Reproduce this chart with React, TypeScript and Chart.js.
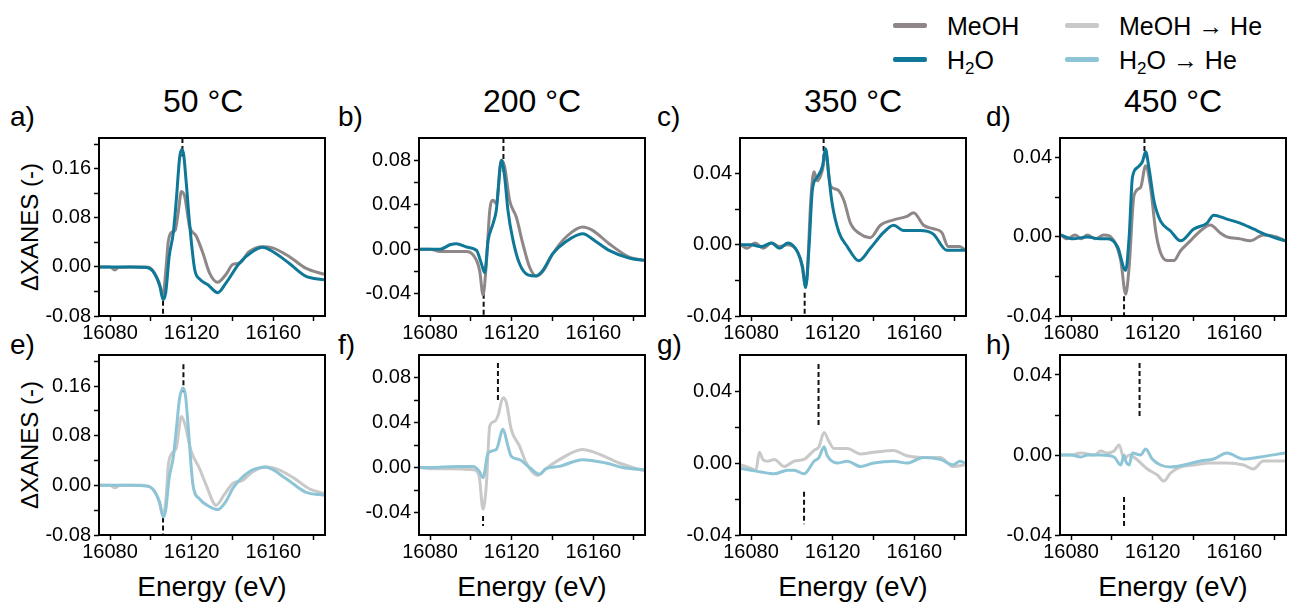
import React, { useEffect, useRef } from 'react';
import { Chart, registerables } from 'chart.js';
Chart.register(...registerables);

const FONT = '"Liberation Sans", Arial, Helvetica, sans-serif';

const COLOR_MEOH = '#8f8787';
const COLOR_H2O = '#0f7898';
const COLOR_MEOH_HE = '#c9c9c9';
const COLOR_H2O_HE = '#8ec5d6';

// ---------- axes ----------
const xMin = 16074.6;
const xMax = 16185.4;
const xMajorTicks = [16080, 16120, 16160];
const xMinorTicks = [16100, 16140, 16180];

const temperatures = ['50 °C', '200 °C', '350 °C', '450 °C'];
const panelLetters = ['a)', 'b)', 'c)', 'd)', 'e)', 'f)', 'g)', 'h)'];

const yMin50 = -0.08, yMax50 = 0.21;
const yMajor50 = [-0.08, 0, 0.08, 0.16];
const yMinor50 = [-0.04, 0.04, 0.12, 0.2];
const yMin200 = -0.06, yMax200 = 0.1;
const yMajor200 = [-0.04, 0, 0.04, 0.08];
const yMinor200 = [-0.02, 0.02, 0.06];
const yMin350 = -0.04, yMax350 = 0.06;
const yMajor350 = [-0.04, 0, 0.04];
const yMinor350 = [-0.02, 0.02];
const yMin450 = -0.04, yMax450 = 0.05;
const yMajor450 = [-0.04, 0, 0.04];
const yMinor450 = [-0.02, 0.02];

// ---------- data: top row (MeOH, H2O) ----------
const aMeohE = [16075, 16080, 16082.4, 16084, 16090, 16098, 16101, 16104, 16106, 16107.5, 16108.5, 16110, 16112, 16113.5, 16115, 16116.6, 16119, 16122.3, 16125.5, 16128.8, 16132.8, 16136.9, 16140.2, 16143.4, 16148.3, 16154.8, 16159.7, 16167.8, 16175.9, 16184.9];
const aMeohY = [0, 0, -0.005, -0.001, 0, 0, -0.006, -0.025, -0.045, 0.0, 0.04, 0.056, 0.06, 0.09, 0.123, 0.115, 0.066, 0.05, 0.023, -0.01, -0.025, -0.012, 0.004, 0.006, 0.025, 0.033, 0.031, 0.017, -0.002, -0.012];
const aH2oE = [16075, 16080, 16090, 16098, 16101, 16104.4, 16106, 16107.3, 16109, 16111, 16112.5, 16114.1, 16115, 16116, 16117.4, 16119, 16121.5, 16124, 16128, 16132.8, 16136.9, 16143.4, 16149.9, 16154.8, 16159.7, 16167.8, 16175.9, 16184.9];
const aH2oY = [0, 0, 0, -0.001, -0.007, -0.031, -0.053, -0.042, 0.017, 0.055, 0.109, 0.177, 0.191, 0.185, 0.136, 0.071, -0.004, -0.02, -0.029, -0.042, -0.026, 0.006, 0.025, 0.032, 0.025, 0.006, -0.015, -0.021];

const bMeohE = [16075, 16080, 16085, 16090, 16098, 16102.8, 16104.4, 16106, 16107.6, 16109.3, 16110.9, 16112.5, 16115, 16116.6, 16119, 16122.3, 16125.5, 16128.8, 16132, 16135.3, 16140.2, 16146.7, 16154.8, 16159.7, 16167.8, 16177.6, 16184.9];
const bMeohY = [0, 0, -0.002, -0.002, -0.002, -0.01, -0.02, -0.041, -0.013, 0.035, 0.044, 0.041, 0.08, 0.074, 0.044, 0.029, 0.005, -0.016, -0.024, -0.02, -0.004, 0.011, 0.02, 0.017, 0.005, -0.007, -0.01];
const bH2oE = [16075, 16080, 16085, 16089.8, 16093, 16097.9, 16102.8, 16105.2, 16106.8, 16108.5, 16110.9, 16112.5, 16115, 16116.6, 16118.2, 16120.7, 16123.9, 16128, 16132, 16135.3, 16140.2, 16146.7, 16154.8, 16161.3, 16167.8, 16177.6, 16184.9];
const bH2oY = [0, 0, 0, 0.004, 0.005, 0.002, -0.001, -0.013, -0.021, 0.008, 0.023, 0.035, 0.08, 0.065, 0.035, 0.008, -0.013, -0.023, -0.024, -0.019, -0.004, 0.007, 0.014, 0.007, -0.001, -0.008, -0.01];

const cMeohE = [16075, 16078, 16082, 16086, 16090, 16094, 16098, 16102.8, 16105, 16106.8, 16107.6, 16109.3, 16110.9, 16112.5, 16115, 16116.6, 16119, 16122.3, 16125.5, 16128.8, 16133.7, 16138.5, 16143.4, 16149.9, 16156.4, 16159.7, 16164.6, 16169.4, 16173.5, 16176.7, 16182.4, 16184.9];
const cMeohY = [0, -0.002, 0.001, -0.002, 0.001, -0.001, 0, -0.004, -0.012, -0.023, -0.016, 0.025, 0.041, 0.036, 0.042, 0.052, 0.033, 0.031, 0.025, 0.012, 0.006, 0.004, 0.011, 0.014, 0.016, 0.018, 0.011, 0.009, 0.007, -0.001, -0.001, -0.003];
const cH2oE = [16075, 16080, 16085, 16090, 16094, 16098, 16102.8, 16105.2, 16106.8, 16108.5, 16110.1, 16112.5, 16115, 16116.6, 16118.2, 16119.8, 16123.1, 16127.2, 16132.8, 16138.5, 16145, 16149.9, 16154.8, 16162.9, 16169.4, 16175.9, 16184.9];
const cH2oY = [0, 0, -0.001, 0.001, -0.002, 0.001, -0.004, -0.012, -0.024, 0, 0.031, 0.038, 0.044, 0.054, 0.038, 0.023, 0.007, -0.001, -0.009, -0.002, 0.007, 0.011, 0.008, 0.008, 0.006, -0.003, -0.003];

const dMeohE = [16075, 16078, 16082, 16085, 16088, 16092, 16096, 16101.1, 16104.4, 16106.8, 16108.5, 16110.9, 16114.1, 16116.6, 16119, 16121.5, 16123.9, 16127.2, 16130.4, 16133.7, 16138.5, 16143.4, 16148.3, 16153.2, 16156.4, 16162.9, 16167.8, 16174.3, 16180.8, 16184.9];
const dMeohY = [0.001, -0.001, 0.001, -0.001, 0.001, -0.001, 0.001, -0.002, -0.012, -0.029, -0.015, 0.021, 0.025, 0.036, 0.025, 0.003, -0.008, -0.012, -0.012, -0.007, -0.002, 0.003, 0.006, 0.002, 0, -0.001, -0.002, 0.001, 0, -0.002];
const dH2oE = [16075, 16081, 16088, 16094, 16098, 16102.8, 16106.8, 16108.5, 16110.1, 16112.5, 16115, 16116.6, 16118.2, 16120.7, 16123.9, 16128.8, 16133.7, 16140.2, 16146.7, 16149.9, 16156.4, 16162.9, 16169.4, 16175.9, 16184.9];
const dH2oY = [0.001, -0.001, 0, -0.001, -0.001, -0.005, -0.017, 0, 0.03, 0.035, 0.038, 0.043, 0.035, 0.018, 0.008, 0.003, -0.002, 0.004, 0.007, 0.011, 0.009, 0.007, 0.004, 0.001, -0.002];

// ---------- data: bottom row (MeOH -> He, H2O -> He) ----------
const eMeohHeE = [16075, 16080, 16082.4, 16085, 16095, 16101, 16104, 16106, 16107.5, 16108.5, 16110, 16112.5, 16115, 16116.6, 16119.8, 16123.9, 16127.2, 16132, 16136, 16140.2, 16145, 16150, 16156.4, 16162, 16170, 16178, 16184.9];
const eMeohHeY = [0, 0, -0.004, 0, 0, -0.006, -0.025, -0.049, -0.02, 0.03, 0.05, 0.06, 0.111, 0.1, 0.055, 0.027, 0.0, -0.032, -0.015, 0.003, 0.008, 0.022, 0.03, 0.026, 0.012, -0.006, -0.013];
const eH2oHeE = [16075, 16080, 16090, 16098, 16101, 16104.4, 16106, 16107.3, 16109, 16111, 16112.5, 16114.1, 16115.8, 16117, 16118.2, 16120.7, 16123.9, 16128, 16132.8, 16137, 16140.2, 16148.3, 16156.4, 16166.2, 16175.9, 16184.9];
const eH2oHeY = [0, 0, 0, -0.001, -0.006, -0.028, -0.051, -0.04, 0.012, 0.045, 0.09, 0.14, 0.157, 0.145, 0.1, 0.0, -0.022, -0.033, -0.039, -0.025, -0.005, 0.022, 0.029, 0.011, -0.011, -0.016];

const fMeohHeE = [16075, 16080, 16090, 16101.1, 16104, 16106, 16107.6, 16109.3, 16111.7, 16113.3, 16115.8, 16117.4, 16119.8, 16123.9, 16127.2, 16132.8, 16136.9, 16143.4, 16154.8, 16161.3, 16172.7, 16184.9];
const fMeohHeY = [0, -0.001, -0.001, -0.002, -0.007, -0.037, -0.016, 0.037, 0.041, 0.046, 0.062, 0.058, 0.034, 0.019, 0.004, -0.007, -0.001, 0.007, 0.016, 0.013, 0.004, -0.003];
const fH2oHeE = [16075, 16080, 16093, 16101.1, 16104, 16106, 16108.5, 16112.5, 16115.8, 16118.2, 16119.8, 16123.9, 16128.8, 16133.7, 16136.9, 16143.4, 16154.8, 16166.2, 16174.3, 16184.9];
const fH2oHeY = [0, 0, 0.001, 0.001, -0.003, -0.009, 0.013, 0.016, 0.034, 0.019, 0.01, 0.007, 0, -0.006, -0.001, 0.001, 0.007, 0.004, 0, -0.002];

const gMeohHeE = [16075, 16080, 16082.4, 16084.1, 16085.8, 16088.1, 16091.4, 16096.3, 16101.1, 16106, 16110.9, 16113.3, 16115.8, 16118.2, 16120.7, 16127.2, 16133.7, 16140.2, 16149.9, 16156.4, 16166.2, 16172.7, 16179.2, 16184.9];
const gMeohHeY = [-0.001, -0.003, -0.004, 0.006, 0.002, 0.001, 0.002, -0.002, 0.001, 0.002, 0.007, 0.009, 0.017, 0.012, 0.008, 0.008, 0.005, 0.006, 0.007, 0.004, 0.003, 0.003, -0.002, -0.001];
const gH2oHeE = [16075, 16080, 16084.9, 16091.4, 16097.9, 16101.1, 16106, 16110.9, 16113.3, 16115.8, 16117.4, 16122.3, 16127.2, 16133.7, 16140.2, 16149.9, 16156.4, 16164.6, 16172.7, 16179.2, 16182.4, 16184.9];
const gH2oHeY = [-0.003, -0.004, -0.005, -0.006, -0.004, -0.004, -0.006, 0.001, 0.003, 0.009, 0.004, 0, 0.001, -0.002, 0, 0.001, 0, 0.003, 0.002, -0.001, 0.001, 0];

const hMeohHeE = [16075, 16080, 16084.9, 16091.4, 16094.6, 16097.9, 16101.1, 16103.6, 16106, 16108.5, 16112, 16117.4, 16122.3, 16125.5, 16128.8, 16133.7, 16140.2, 16148.3, 16156.4, 16164.6, 16169.4, 16174.3, 16184.9];
const hMeohHeY = [0, 0, 0.001, 0, 0.002, 0.001, 0.002, 0.005, -0.002, 0, -0.002, -0.007, -0.01, -0.013, -0.009, -0.006, -0.005, -0.004, -0.004, -0.005, -0.007, -0.003, -0.003];
const hH2oHeE = [16075, 16080, 16084.9, 16088.1, 16094.6, 16101.1, 16104.4, 16106, 16106.8, 16108.5, 16110.1, 16114.1, 16116.6, 16119.8, 16123.9, 16128.8, 16135.3, 16143.4, 16149.9, 16156.4, 16164.6, 16172.7, 16184.9];
const hH2oHeY = [0, 0, -0.001, 0, 0, -0.001, -0.005, 0, -0.003, -0.005, 0.001, 0, 0.003, -0.002, -0.005, -0.006, -0.005, -0.003, -0.002, 0.001, -0.002, -0.001, 0.001];

// ---------- dashed marker lines (a..h) ----------
const markTopE = [16115.5, 16116, 16115.6, 16116, 16116, 16113.3, 16113.1, 16113.6];
const markTopY0 = [0.21, 0.1, 0.06, 0.05, 0.195, 0.093, 0.055, 0.046];
const markTopY1 = [0.18, 0.07, 0.045, 0.04, 0.15, 0.058, 0.02, 0.018];
const markBotE = [16106, 16106.3, 16106.3, 16106, 16106, 16106, 16106, 16106];
const markBotY0 = [-0.055, -0.04, -0.027, -0.03, -0.052, -0.043, -0.016, -0.021];
const markBotY1 = [-0.08, -0.06, -0.04, -0.04, -0.08, -0.052, -0.034, -0.036];

// ---------- layout ----------
const PLOT_LEFT = [99, 419, 740, 1060];
const PLOT_W = 226;
const PLOT_TOP = [137, 354];
const PLOT_H = [179, 181];
const AX_W = 90;
const AX_H = 34;
const PAD_T = 14;
const PAD_R = 10;

type Series = { E: number[]; Y: number[]; color: string };
type PanelDef = {
  idx: number;
  col: number;
  row: number;
  yMin: number;
  yMax: number;
  yMajor: number[];
  yMinor: number[];
  series: Series[];
};

const panels: PanelDef[] = [
  { idx: 0, col: 0, row: 0, yMin: yMin50, yMax: yMax50, yMajor: yMajor50, yMinor: yMinor50, series: [{ E: aMeohE, Y: aMeohY, color: COLOR_MEOH }, { E: aH2oE, Y: aH2oY, color: COLOR_H2O }] },
  { idx: 1, col: 1, row: 0, yMin: yMin200, yMax: yMax200, yMajor: yMajor200, yMinor: yMinor200, series: [{ E: bMeohE, Y: bMeohY, color: COLOR_MEOH }, { E: bH2oE, Y: bH2oY, color: COLOR_H2O }] },
  { idx: 2, col: 2, row: 0, yMin: yMin350, yMax: yMax350, yMajor: yMajor350, yMinor: yMinor350, series: [{ E: cMeohE, Y: cMeohY, color: COLOR_MEOH }, { E: cH2oE, Y: cH2oY, color: COLOR_H2O }] },
  { idx: 3, col: 3, row: 0, yMin: yMin450, yMax: yMax450, yMajor: yMajor450, yMinor: yMinor450, series: [{ E: dMeohE, Y: dMeohY, color: COLOR_MEOH }, { E: dH2oE, Y: dH2oY, color: COLOR_H2O }] },
  { idx: 4, col: 0, row: 1, yMin: yMin50, yMax: yMax50, yMajor: yMajor50, yMinor: yMinor50, series: [{ E: eMeohHeE, Y: eMeohHeY, color: COLOR_MEOH_HE }, { E: eH2oHeE, Y: eH2oHeY, color: COLOR_H2O_HE }] },
  { idx: 5, col: 1, row: 1, yMin: yMin200, yMax: yMax200, yMajor: yMajor200, yMinor: yMinor200, series: [{ E: fMeohHeE, Y: fMeohHeY, color: COLOR_MEOH_HE }, { E: fH2oHeE, Y: fH2oHeY, color: COLOR_H2O_HE }] },
  { idx: 6, col: 2, row: 1, yMin: yMin350, yMax: yMax350, yMajor: yMajor350, yMinor: yMinor350, series: [{ E: gMeohHeE, Y: gMeohHeY, color: COLOR_MEOH_HE }, { E: gH2oHeE, Y: gH2oHeY, color: COLOR_H2O_HE }] },
  { idx: 7, col: 3, row: 1, yMin: yMin450, yMax: yMax450, yMajor: yMajor450, yMinor: yMinor450, series: [{ E: hMeohHeE, Y: hMeohHeY, color: COLOR_MEOH_HE }, { E: hH2oHeE, Y: hH2oHeY, color: COLOR_H2O_HE }] },
];

const isIn = (v: number, arr: number[]) => arr.some((a) => Math.abs(a - v) < 1e-9);

const framePlugin = {
  id: 'frame',
  afterDatasetsDraw(chart: any) {
    const { ctx, chartArea } = chart;
    const { left, top, right, bottom } = chartArea;
    ctx.save();
    ctx.strokeStyle = '#000';
    ctx.lineWidth = 2;
    ctx.strokeRect(left, top, right - left, bottom - top);
    ctx.restore();
  },
};

function PanelChart({ p }: { p: PanelDef }) {
  const ref = useRef<HTMLCanvasElement>(null);
  const h = PLOT_H[p.row];
  const W = AX_W + PLOT_W + PAD_R;
  const H = PAD_T + h + AX_H;
  const left = PLOT_LEFT[p.col] - AX_W;
  const top = PLOT_TOP[p.row] - PAD_T;

  useEffect(() => {
    if (!ref.current) return;
    const datasets: any[] = [];
    p.series.forEach((s, i) => {
      datasets.push({
        data: s.E.map((x, k) => ({ x, y: s.Y[k] })),
        borderColor: s.color,
        borderWidth: 3,
        pointRadius: 0,
        cubicInterpolationMode: 'monotone',
        order: 2 - i,
      });
    });
    datasets.push({
      data: [{ x: markTopE[p.idx], y: markTopY0[p.idx] }, { x: markTopE[p.idx], y: markTopY1[p.idx] }],
      borderColor: '#111',
      borderWidth: 2,
      borderDash: [5, 3],
      pointRadius: 0,
      order: 3,
    });
    datasets.push({
      data: [{ x: markBotE[p.idx], y: markBotY0[p.idx] }, { x: markBotE[p.idx], y: markBotY1[p.idx] }],
      borderColor: '#111',
      borderWidth: 2,
      borderDash: [5, 3],
      pointRadius: 0,
      order: 3,
    });

    const chart = new Chart(ref.current, {
      type: 'line',
      data: { datasets },
      plugins: [framePlugin],
      options: {
        animation: false,
        responsive: false,
        maintainAspectRatio: false,
        devicePixelRatio: 1,
        layout: { padding: { left: 0, top: PAD_T, right: PAD_R, bottom: 0 } },
        plugins: { legend: { display: false }, tooltip: { enabled: false } },
        scales: {
          x: {
            type: 'linear',
            min: xMin,
            max: xMax,
            border: { display: false },
            grid: { drawOnChartArea: false, drawTicks: true, tickLength: 5, tickColor: '#000', tickWidth: 1.5 },
            afterBuildTicks: (scale: any) => {
              scale.ticks = [...xMajorTicks, ...xMinorTicks].sort((a, b) => a - b).map((v) => ({ value: v }));
            },
            afterFit: (scale: any) => {
              scale.height = AX_H;
            },
            ticks: {
              autoSkip: false,
              maxRotation: 0,
              padding: 0,
              color: '#000',
              font: { family: FONT, size: 20 },
              callback: (v: any) => (isIn(Number(v), xMajorTicks) ? String(v) : ''),
            },
          },
          y: {
            type: 'linear',
            min: p.yMin,
            max: p.yMax,
            border: { display: false },
            grid: { drawOnChartArea: false, drawTicks: true, tickLength: 5, tickColor: '#000', tickWidth: 1.5 },
            afterBuildTicks: (scale: any) => {
              scale.ticks = [...p.yMajor, ...p.yMinor].sort((a, b) => a - b).map((v) => ({ value: v }));
            },
            afterFit: (scale: any) => {
              scale.width = AX_W;
            },
            ticks: {
              autoSkip: false,
              padding: 3,
              color: '#000',
              font: { family: FONT, size: 20 },
              callback: (v: any) => (isIn(Number(v), p.yMajor) ? Number(v).toFixed(2) : ''),
            },
          },
        },
      } as any,
    });
    return () => chart.destroy();
  }, []);

  return (
    <canvas
      ref={ref}
      width={W}
      height={H}
      style={{ position: 'absolute', left, top, width: W, height: H }}
    />
  );
}

const textBase: React.CSSProperties = {
  position: 'absolute',
  fontFamily: FONT,
  color: '#000',
  whiteSpace: 'nowrap',
};

function Sub2() {
  return <span style={{ fontSize: 17, verticalAlign: -5, lineHeight: 0 }}>2</span>;
}

export default function App() {
  const legendItems = [
    { x: 893, y: 25, color: COLOR_MEOH, label: <>MeOH</> },
    { x: 893, y: 59, color: COLOR_H2O, label: <>H<Sub2 />O</> },
    { x: 1065, y: 25, color: COLOR_MEOH_HE, label: <>MeOH → He</> },
    { x: 1065, y: 59, color: COLOR_H2O_HE, label: <>H<Sub2 />O → He</> },
  ];
  const letterX = [10, 338, 657, 986];
  const letterBase = [127, 355];

  return (
    <div style={{ position: 'absolute', left: 0, top: 0, width: 1294, height: 606, overflow: 'hidden', background: '#fff' }}>
      {/* legend */}
      {legendItems.map((it, i) => (
        <React.Fragment key={'lg' + i}>
          <div style={{ position: 'absolute', left: it.x, top: it.y - 2.5, width: 34, height: 5, background: it.color, borderRadius: 2 }} />
          <div style={{ ...textBase, left: it.x + 54, top: it.y + 10 - 0.8465 * 25, fontSize: 25, lineHeight: '25px' }}>{it.label}</div>
        </React.Fragment>
      ))}
      {/* column titles */}
      {temperatures.map((t, c) => (
        <div key={'t' + c} style={{ ...textBase, left: PLOT_LEFT[c] + 64, top: 111.7 - 0.8465 * 32, fontSize: 32, lineHeight: '32px' }}>{t}</div>
      ))}
      {/* panel letters */}
      {panelLetters.map((l, i) => (
        <div key={'l' + i} style={{ ...textBase, left: letterX[i % 4], top: letterBase[Math.floor(i / 4)] - 0.8465 * 28, fontSize: 28, lineHeight: '28px' }}>{l}</div>
      ))}
      {/* y axis titles */}
      {[0, 1].map((r) => (
        <div
          key={'yt' + r}
          style={{
            ...textBase,
            left: 30 - 100,
            top: PLOT_TOP[r] + PLOT_H[r] / 2 - 12,
            width: 200,
            textAlign: 'center',
            fontSize: 24,
            lineHeight: '24px',
            transform: 'rotate(-90deg)',
          }}
        >
          ΔXANES (-)
        </div>
      ))}
      {/* x axis titles */}
      {[0, 1, 2, 3].map((c) => (
        <div
          key={'xt' + c}
          style={{ ...textBase, left: PLOT_LEFT[c] + PLOT_W / 2 - 100, width: 200, textAlign: 'center', top: 597 - 0.8465 * 28, fontSize: 28, lineHeight: '28px' }}
        >
          Energy (eV)
        </div>
      ))}
      {panels.map((p) => (
        <PanelChart key={p.idx} p={p} />
      ))}
    </div>
  );
}
